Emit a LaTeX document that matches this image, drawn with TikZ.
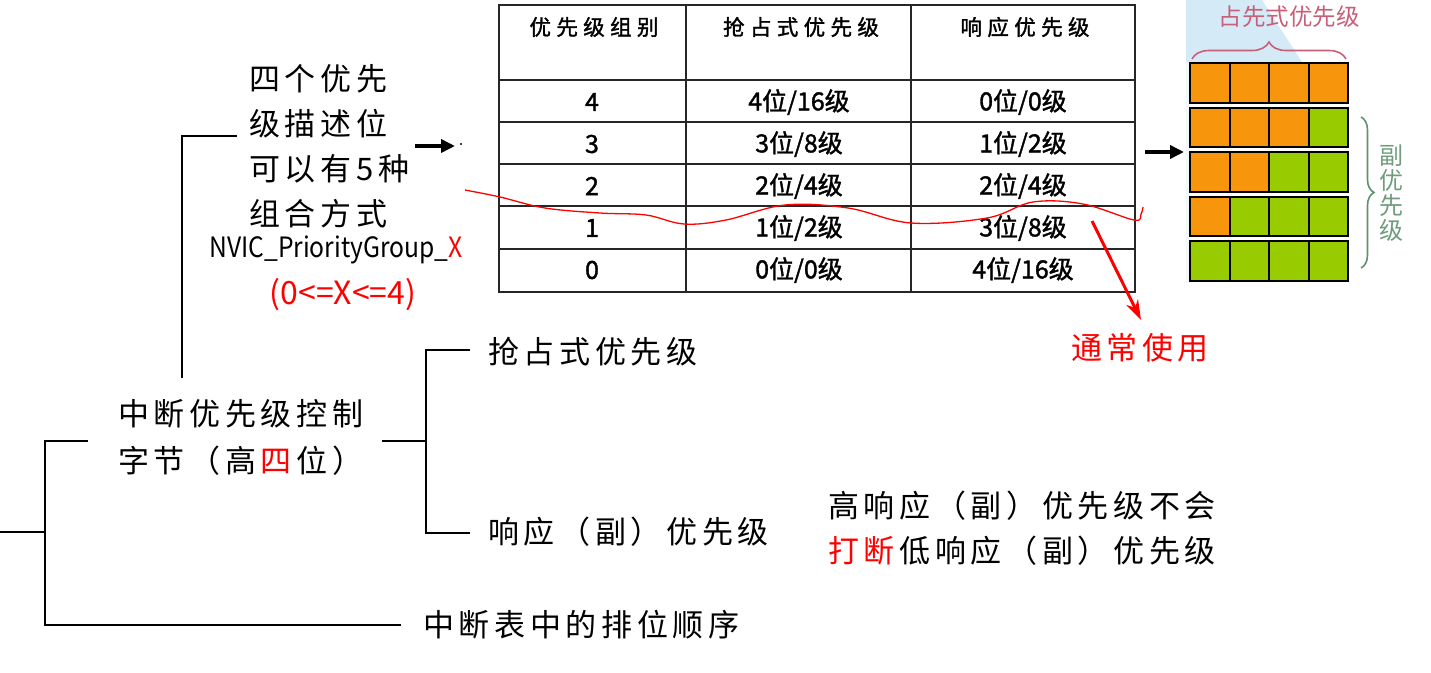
\documentclass[tikz,border=0pt]{standalone}
\usepackage{fontspec}
\usepackage{graphicx}
\setmainfont{Noto Sans CJK SC}
\newfontfamily\hand[LetterSpace=15]{Noto Sans CJK SC}
\newfontfamily\tabfont[FakeBold=1.5]{Noto Sans CJK SC}
\newfontfamily\tabhead[FakeBold=1.5,LetterSpace=25]{Noto Sans CJK SC}
\usetikzlibrary{arrows.meta,decorations.pathreplacing}
\definecolor{sqorange}{RGB}{247,150,12}
\definecolor{sqgreen}{RGB}{153,204,0}
\definecolor{bracepink}{RGB}{200,95,120}
\definecolor{bracegreen}{RGB}{95,145,110}
\definecolor{panelblue}{RGB}{212,234,246}
\newcommand{\lsgap}{\hskip0.15em\relax}
\tikzset{
  hw/.style={font=\hand\fontsize{31}{36}\selectfont, inner sep=0pt, anchor=west},
  treeline/.style={line width=2pt, black},
  gridline/.style={line width=2.5pt, black!85},
  headcell/.style={font=\tabhead\fontsize{21.5}{24}\selectfont, inner sep=0pt},
  bodycell/.style={font=\tabfont\fontsize{25}{28}\selectfont, inner sep=0pt},
  blkarrow/.style={line width=4pt, -{Triangle[length=14pt,width=13pt]}},
  sq/.style={draw=black, line width=2pt},
}
\begin{document}
\begin{tikzpicture}[x=1pt,y=-1pt]
\useasboundingbox (0,0) rectangle (1431,672);

% ---------------- tree on the left ----------------
\coordinate (r0) at (0,532);
\coordinate (r1) at (45,532);
\coordinate (t0) at (45,441);
\coordinate (t1) at (88,441);
\coordinate (b0) at (45,625);
\coordinate (b1) at (401,625);
\draw[treeline] (r0) -- (r1);
\draw[treeline] (t1) -- (t0) -- (b0) -- (b1);

\node[hw, align=left, font=\hand\fontsize{31}{47}\selectfont] (ctrl) at (118,437)
  {中断优先级控制\\字节（高\lsgap{\color{red}四\lsgap}位）};

\coordinate (c0) at (382,441);
\coordinate (c1) at (426,441);
\coordinate (p0) at (470,350);
\coordinate (p1) at (426,350);
\coordinate (p2) at (426,533);
\coordinate (p3) at (470,533);
\draw[treeline] (c0) -- (c1);
\draw[treeline] (p0) -- (p1) -- (p2) -- (p3);

\node[hw] (pre) at (488,352) {抢占式优先级};
\node[hw] (sub) at (488,532) {响应（副）优先级};
\node[hw] (order) at (423,625) {中断表中的排位顺序};

\node[hw, align=left, font=\hand\fontsize{31}{45}\selectfont] (note) at (828,528)
  {高响应（副）优先级不会\\{\color{red}打断\lsgap}低响应（副）优先级};

% upward connector
\coordinate (u0) at (182,378);
\coordinate (u1) at (182,136);
\coordinate (u2) at (237,136);
\draw[treeline] (u0) -- (u1) -- (u2);

\node[hw, align=left, font=\hand\fontsize{31}{45}\selectfont] (desc) at (249,146)
  {四个优先\\级描述位\\可以有5种\\组合方式};
\node[font=\fontsize{28}{32}\selectfont, inner sep=0pt] (nvic) at (336,250)
  {\scalebox{0.88}[1]{NVIC\_PriorityGroup\_{\color{red}X}}};
\node[font=\fontsize{32}{36}\selectfont, inner sep=0pt, text=red] (range) at (343,295)
  {(0<=X<=4)};

% arrow to table
\coordinate (a0) at (415,146);
\coordinate (a1) at (455,146);
\draw[blkarrow] (a0) -- (a1);
\fill (461,144) circle (1.2pt);

% ---------------- table ----------------
\draw[gridline] (499,5) rectangle (1135,292);
\foreach \yy in {80,122,164,206,249} \draw[gridline] (499,\yy) -- (1135,\yy);
\foreach \xx in {686,911} \draw[gridline] (\xx,5) -- (\xx,292);

\node[headcell] (h1) at (594,27) {优先级组别};
\node[headcell] (h2) at (801,27) {抢占式优先级};
\node[headcell] (h3) at (1025,27) {响应优先级};

\node[bodycell] (g4) at (592,102) {4};
\node[bodycell] (g3) at (592,144) {3};
\node[bodycell] (g2) at (592,186) {2};
\node[bodycell] (g1) at (592,228) {1};
\node[bodycell] (g0) at (592,270) {0};

\node[bodycell] (pa4) at (799,102) {4位/16级};
\node[bodycell] (pa3) at (799,144) {3位/8级};
\node[bodycell] (pa2) at (799,186) {2位/4级};
\node[bodycell] (pa1) at (799,228) {1位/2级};
\node[bodycell] (pa0) at (799,270) {0位/0级};

\node[bodycell] (sb4) at (1023,102) {0位/0级};
\node[bodycell] (sb3) at (1023,144) {1位/2级};
\node[bodycell] (sb2) at (1023,186) {2位/4级};
\node[bodycell] (sb1) at (1023,228) {3位/8级};
\node[bodycell] (sb0) at (1023,270) {4位/16级};

% red hand-drawn line
\draw[red, line width=1.3pt] plot[smooth, tension=0.6] coordinates {
  (465,190) (500,197) (545,208) (600,213) (646,215) (684,224) (726,220)
  (785,205) (848,208) (911,223) (987,218) (1033,202) (1083,204)
  (1134,220) (1141,214) (1143,207)};

% red arrow
\coordinate (ra0) at (1092,221);
\coordinate (ra1) at (1141,320);
\draw[red, line width=3pt, -{Stealth[length=20pt,width=13pt]}] (ra0) -- (ra1);
\node[font=\hand\fontsize{31}{36}\selectfont, text=red, inner sep=0pt] (usual) at (1140,348) {通常使用};

% ---------------- right panel ----------------
\fill[panelblue] (1186,0) -- (1262,0) -- (1302,62) -- (1186,62) -- cycle;
\fill[panelblue!35] (1186,62) rectangle (1190,283);

\coordinate (ba0) at (1145,152);
\coordinate (ba1) at (1184,152);
\draw[blkarrow] (ba0) -- (ba1);

\foreach \r in {0,...,4} {
  \foreach \c in {0,...,3} {
    \pgfmathtruncatemacro{\lim}{4-\r}
    \ifnum\c<\lim
      \def\sqcol{sqorange}
    \else
      \def\sqcol{sqgreen}
    \fi
    \draw[sq, fill=\sqcol] ({1190+\c*39.5},{63+\r*44.5}) rectangle ++(39.5,39.5);
  }
}

\draw[bracepink, line width=1.6pt, decorate, decoration={brace, amplitude=17pt}]
  (1192,59) -- (1346,59);
\node[font=\fontsize{23.5}{28}\selectfont, text=bracepink, inner sep=0pt] (pretitle) at (1289,17) {占先式优先级};

\draw[bracegreen, line width=1.6pt, decorate, decoration={brace, amplitude=13pt}]
  (1361,117) -- (1361,268);
\node[font=\fontsize{24}{25}\selectfont, text=bracegreen!90!white, align=center, inner sep=0pt] (subtitle) at (1391,193)
  {副\\优\\先\\级};

\end{tikzpicture}
\end{document}
